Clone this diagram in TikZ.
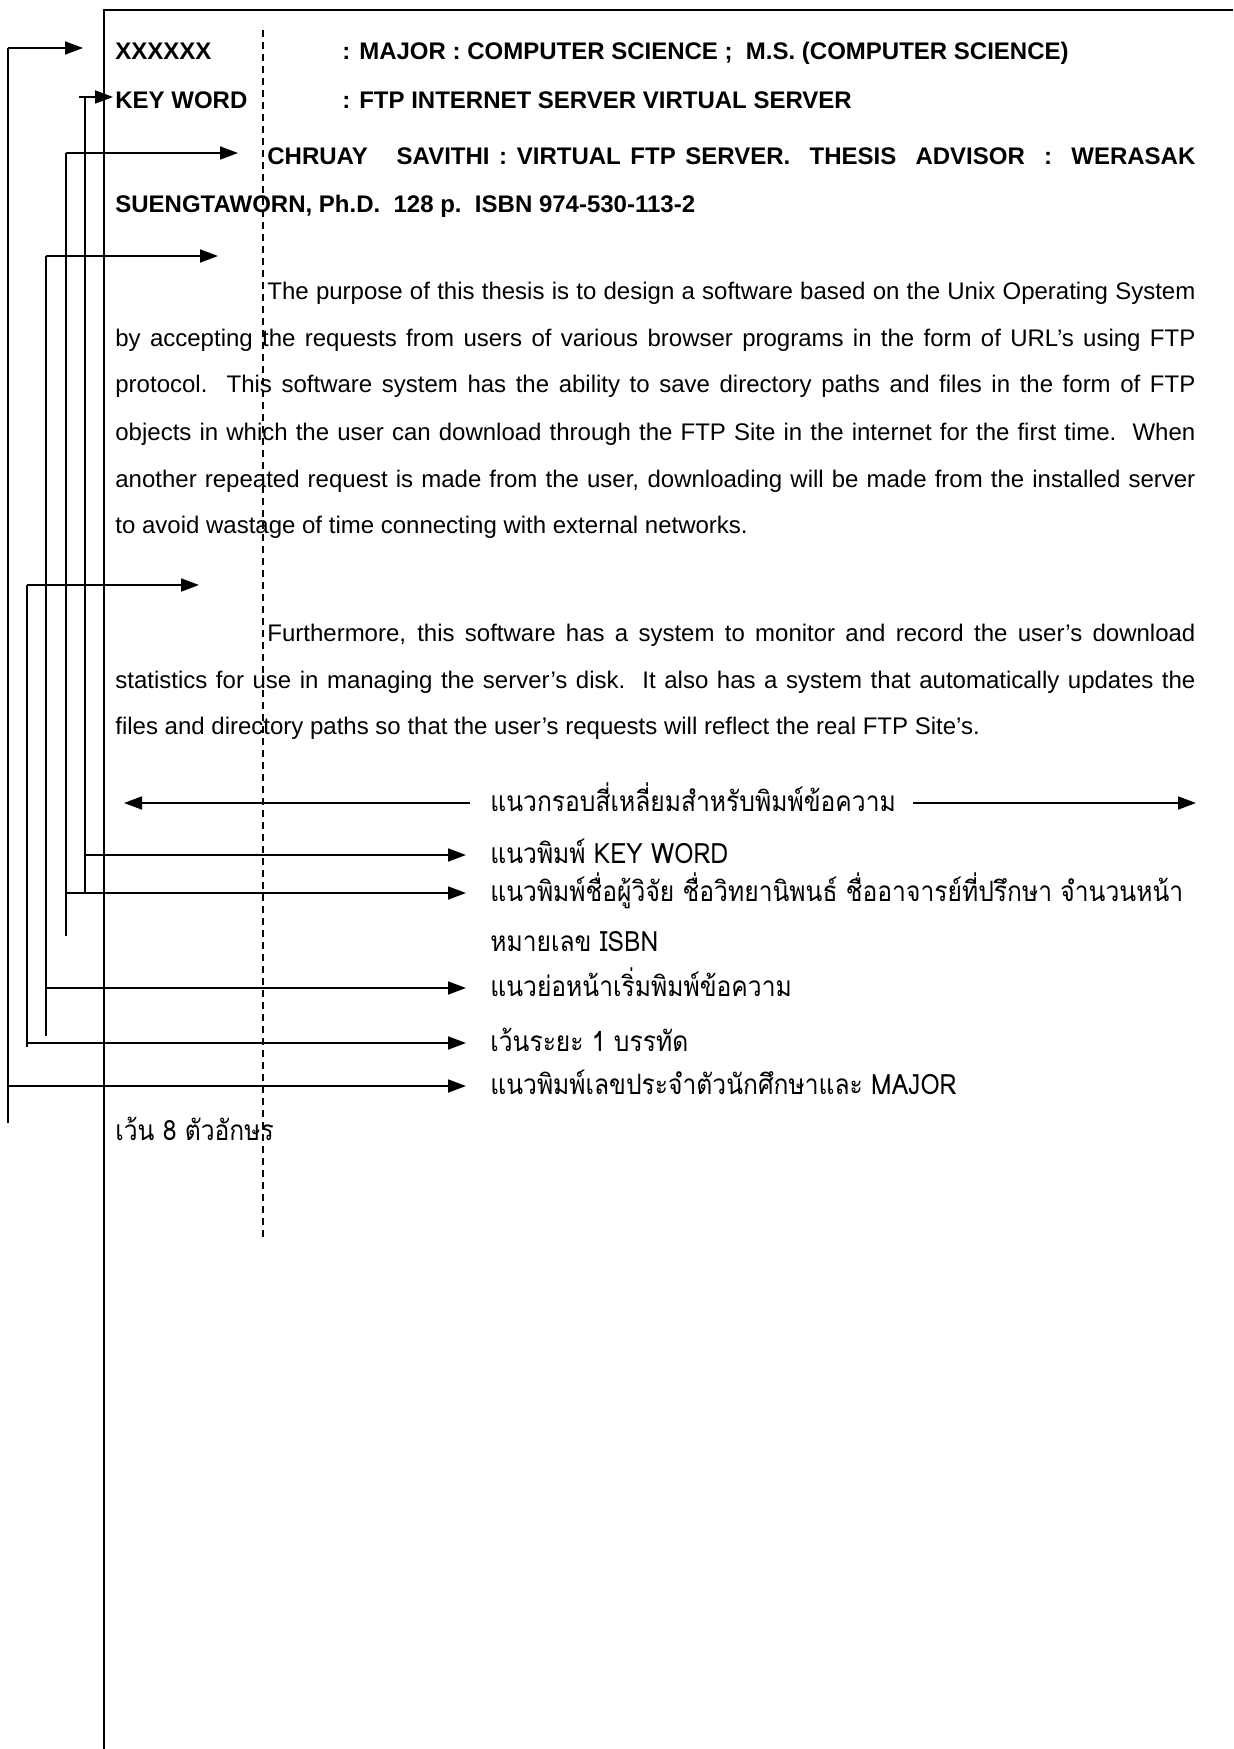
\documentclass[tikz,border=0pt]{standalone}
\usepackage{fontspec}
\setmainfont{Liberation Sans}
\newfontfamily\thaifont[Script=Thai,FakeStretch=0.88]{Loma}
\usetikzlibrary{arrows.meta}
\begin{document}
\begin{tikzpicture}[x=0.5pt,y=-0.5pt,
  ln/.style={line width=0.9pt},
  arr/.style={ln,-{Triangle[length=9pt,width=6.5pt]}},
  hd/.style={anchor=base west,inner sep=0pt,font=\fontsize{12}{14}\selectfont\bfseries},
  bd/.style={anchor=base west,inner sep=0pt,font=\fontsize{12}{14}\selectfont},
  th/.style={anchor=base west,inner sep=0pt,font=\fontsize{14}{16}\thaifont}]
\useasboundingbox (0,0) rectangle (1233,1749);
% frame
\coordinate (fbl) at (104,1749);
\coordinate (ftl) at (104,10);
\coordinate (ftr) at (1233,10);
\draw[line width=1pt] (fbl) -- (ftl) -- (ftr);
% dashed guide
\coordinate (dtop) at (263,30);
\coordinate (dbot) at (263,1240);
\draw[ln,dash pattern=on 3.5pt off 2.5pt] (dtop) -- (dbot);
% heading
\node[hd] (h1a) at (115,60) {XXXXXX};
\node[hd] (h1b) at (342,60) {: MAJOR : COMPUTER SCIENCE ;\ \ M.S. (COMPUTER SCIENCE)};
\node[hd] (h2a) at (115,109) {KEY WORD};
\node[hd] (h2b) at (342,109) {: FTP INTERNET SERVER VIRTUAL SERVER};
\node[hd] (h3) at (267,165) {\makebox[464pt][s]{CHRUAY\ \ \ SAVITHI : VIRTUAL FTP SERVER.\ \ THESIS\ \ ADVISOR\ \ :\ \ WERASAK}};
\node[hd] (h4) at (115,213) {SUENGTAWORN, Ph.D.\ \ 128 p.\ \ ISBN 974-530-113-2};
% paragraph 1
\node[bd] (p1) at (267,300) {\makebox[464pt][s]{The purpose of this thesis is to design a software based on the Unix Operating System}};
\node[bd] (p2) at (115,347) {\makebox[540pt][s]{by accepting the requests from users of various browser programs in the form of URL’s using FTP}};
\node[bd] (p3) at (115,393) {\makebox[540pt][s]{protocol.\ \ This software system has the ability to save directory paths and files in the form of FTP}};
\node[bd] (p4) at (115,440) {\makebox[540pt][s]{objects in which the user can download through the FTP Site in the internet for the first time.\ \ When}};
\node[bd] (p5) at (115,487) {\makebox[540pt][s]{another repeated request is made from the user, downloading will be made from the installed server}};
\node[bd] (p6) at (115,533) {to avoid wastage of time connecting with external networks.};
% paragraph 2
\node[bd] (q1) at (267,641) {\makebox[464pt][s]{Furthermore, this software has a system to monitor and record the user’s download}};
\node[bd] (q2) at (115,688) {\makebox[540pt][s]{statistics for use in managing the server’s disk.\ \ It also has a system that automatically updates the}};
\node[bd] (q3) at (115,734) {files and directory paths so that the user’s requests will reflect the real FTP Site’s.};
% labels
\node[th] (l0) at (490,811) {แนวกรอบสี่เหลี่ยมสำหรับพิมพ์ข้อความ};
\node[th] (l1) at (490,863) {แนวพิมพ์ KEY WORD};
\node[th] (l2) at (490,901) {แนวพิมพ์ชื่อผู้วิจัย ชื่อวิทยานิพนธ์ ชื่ออาจารย์ที่ปรึกษา จำนวนหน้า};
\node[th] (l2b) at (490,951) {หมายเลข ISBN};
\node[th] (l3) at (490,996) {แนวย่อหน้าเริ่มพิมพ์ข้อความ};
\node[th] (l4) at (490,1051) {เว้นระยะ 1 บรรทัด};
\node[th] (l5) at (490,1094) {แนวพิมพ์เลขประจำตัวนักศึกษาและ MAJOR};
\node[th] (l6) at (115,1140) {เว้น 8 ตัวอักษร};
% frame-width arrows
\coordinate (wl0) at (470,803);
\coordinate (wl1) at (124,803);
\coordinate (wr0) at (913,803);
\coordinate (wr1) at (1196,803);
\draw[arr] (wl0) -- (wl1);
\draw[arr] (wr0) -- (wr1);
% bracket: student id / major
\coordinate (a0) at (8,1123);
\coordinate (a1) at (8,48);
\coordinate (a2) at (83,48);
\coordinate (a3) at (8,1086);
\coordinate (a4) at (466,1086);
\draw[ln] (a0) -- (a1);
\draw[arr] (a1) -- (a2);
\draw[arr] (a3) -- (a4);
% bracket: key word
\coordinate (b0) at (85,893);
\coordinate (b1) at (85,97);
\coordinate (b1s) at (79,97);
\coordinate (b2) at (113,97);
\coordinate (b3) at (85,855);
\coordinate (b4) at (466,855);
\draw[ln] (b0) -- (b1);
\draw[arr] (b1s) -- (b2);
\draw[arr] (b3) -- (b4);
% bracket: author / title
\coordinate (c0) at (66,936);
\coordinate (c1) at (66,153);
\coordinate (c2) at (238,153);
\coordinate (c3) at (66,893);
\coordinate (c4) at (466,893);
\draw[ln] (c0) -- (c1);
\draw[arr] (c1) -- (c2);
\draw[arr] (c3) -- (c4);
% bracket: paragraph indent
\coordinate (d0) at (46,1036);
\coordinate (d1) at (46,256);
\coordinate (d2) at (218,256);
\coordinate (d3) at (46,988);
\coordinate (d4) at (466,988);
\draw[ln] (d0) -- (d1);
\draw[arr] (d1) -- (d2);
\draw[arr] (d3) -- (d4);
% bracket: one line space
\coordinate (e0) at (27,1047);
\coordinate (e1) at (27,585);
\coordinate (e2) at (199,585);
\coordinate (e3) at (27,1043);
\coordinate (e4) at (466,1043);
\draw[ln] (e0) -- (e1);
\draw[arr] (e1) -- (e2);
\draw[arr] (e3) -- (e4);
\end{tikzpicture}
\end{document}
